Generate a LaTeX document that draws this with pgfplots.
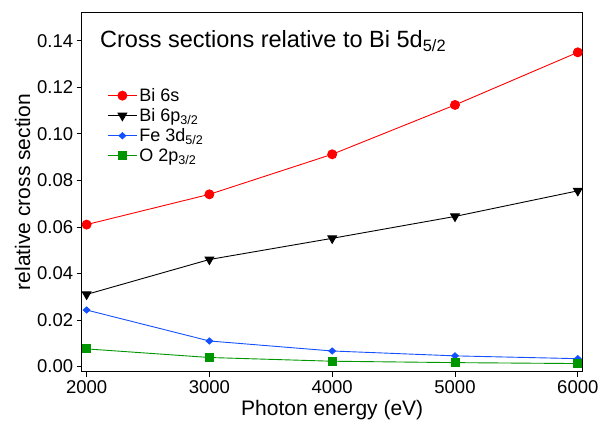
\documentclass[border=0pt]{standalone}
\usepackage{pgfplots}
\pgfplotsset{compat=1.18}
\usepackage{fontspec}
\setmainfont{Liberation Sans}

\definecolor{bired}{RGB}{255,0,0}
\definecolor{feblue}{RGB}{20,80,255}
\definecolor{ogreen}{RGB}{0,150,0}

\begin{document}
\begin{tikzpicture}
\begin{axis}[
    scale only axis,
    width=501pt, height=359.4pt,
    xmin=1960, xmax=6040,
    ymin=-0.0022, ymax=0.1522,
    xtick={2000,3000,4000,5000,6000},
    ytick={0,0.02,0.04,0.06,0.08,0.10,0.12,0.14},
    tick align=outside,
    tick pos=left,
    major tick length=5pt,
    minor tick num=0,
    tick style={black, line width=0.8pt},
    axis line style={line width=0.8pt},
    /pgf/number format/assume math mode=true,
    xticklabel style={/pgf/number format/set thousands separator={}, font=\fontsize{18.5}{21}\selectfont},
    yticklabel style={/pgf/number format/fixed, /pgf/number format/fixed zerofill, /pgf/number format/precision=2, font=\fontsize{18.5}{21}\selectfont},
    scaled y ticks=false,
    xlabel={Photon energy (eV)},
    ylabel={relative cross section},
    label style={font=\fontsize{21}{24}\selectfont},
    legend style={draw=none, fill=none, at={(rel axis cs:0.045,0.80)}, anchor=north west, font=\fontsize{18}{20}\selectfont, row sep=1.5pt,
        /tikz/every even column/.append style={column sep=3pt}},
    legend cell align=left,
    legend image code/.code={\draw[mark repeat=2,mark phase=2] plot coordinates {(0pt,0pt) (14.5pt,0pt) (29pt,0pt)};},
]
\addplot[bired, line width=0.9pt, mark=*, mark size=4.5pt, mark options={solid}] coordinates {
    (2000,0.0610) (3000,0.0740) (4000,0.0912) (5000,0.1124) (6000,0.1350)
};
\addlegendentry{Bi 6s}
\addplot[black, line width=0.9pt, mark=triangle*, mark size=5pt, mark options={solid, rotate=180}] coordinates {
    (2000,0.0310) (3000,0.0460) (4000,0.0551) (5000,0.0645) (6000,0.0755)
};
\addlegendentry{Bi 6p\textsubscript{3/2}}
\addplot[feblue, line width=0.9pt, mark=diamond*, mark size=3.6pt, mark options={solid, xscale=1.25, yscale=0.85}] coordinates {
    (2000,0.0243) (3000,0.0110) (4000,0.0067) (5000,0.0046) (6000,0.0034)
};
\addlegendentry{Fe 3d\textsubscript{5/2}}
\addplot[ogreen, line width=0.9pt, mark=square*, mark size=4pt, mark options={solid}] coordinates {
    (2000,0.0076) (3000,0.0039) (4000,0.0023) (5000,0.0017) (6000,0.0013)
};
\addlegendentry{O 2p\textsubscript{3/2}}
\node[anchor=base west, inner sep=0pt, font=\fontsize{23.5}{26}\selectfont] at (rel axis cs:0.0365,0.9007) {Cross sections relative to Bi 5d\textsubscript{5/2}};
\end{axis}
\pgfresetboundingbox
\path ([xshift=-81.7pt,yshift=-59.3pt]current axis.south west) rectangle ([xshift=16.3pt,yshift=12.3pt]current axis.north east);
\end{tikzpicture}
\end{document}
